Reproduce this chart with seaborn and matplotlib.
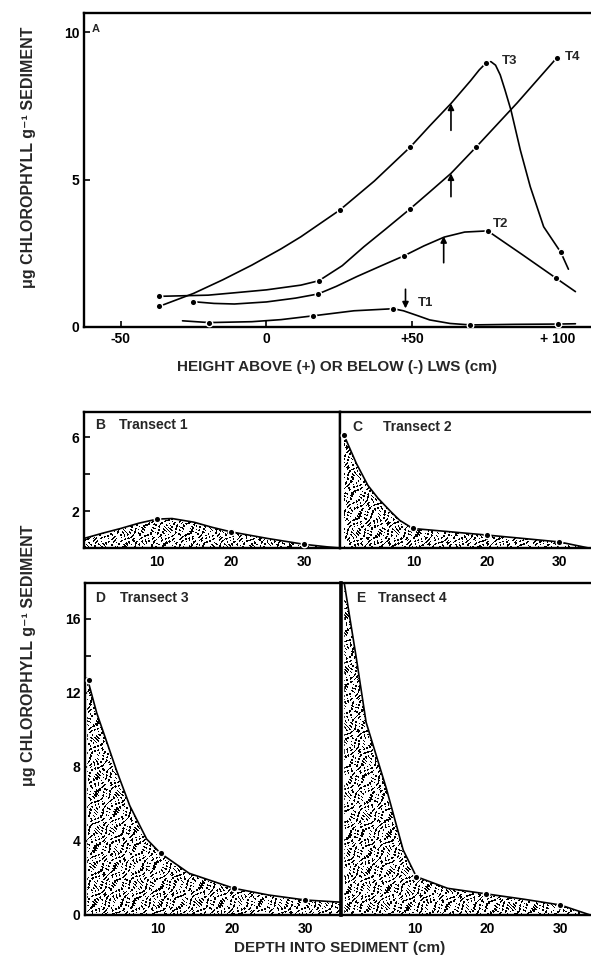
import numpy as np
import pandas as pd
import matplotlib
matplotlib.use('Agg')
import matplotlib.pyplot as plt
import seaborn as sns

# ---- panel A: chlorophyll vs height above / below LWS ----
# measured stations (dots)
t1_x = [-19.7, 16.1, 43.5, 70.0, 100.0]
t1_y = [0.15, 0.38, 0.62, 0.07, 0.10]
t2_x = [-25.3, 17.7, 47.1, 75.9, 99.3]
t2_y = [0.86, 1.12, 2.41, 3.26, 1.66]
t3_x = [-36.8, 25.2, 49.4, 75.4, 101.0]
t3_y = [0.70, 3.97, 6.11, 8.96, 2.53]
t4_x = [-36.8, 18.0, 49.2, 72.0, 99.7]
t4_y = [1.04, 1.57, 4.00, 6.11, 9.14]

# hand-drawn curves
t1_cx = [-28.8, -19.7, -5, 5, 16.1, 30, 43.5, 47, 52, 56, 63, 70, 85, 100, 106]
t1_cy = [0.21, 0.15, 0.18, 0.25, 0.38, 0.55, 0.62, 0.55, 0.38, 0.24, 0.12, 0.07, 0.09, 0.10, 0.11]
t2_cx = [-25.3, -18, -11, 0, 10, 17.7, 24, 31, 39, 47.1, 54, 61, 68, 75.9, 87.7, 99.3, 106]
t2_cy = [0.86, 0.80, 0.78, 0.85, 0.98, 1.12, 1.38, 1.71, 2.06, 2.41, 2.75, 3.05, 3.22, 3.26, 2.46,
         1.66, 1.2]
t3_cx = [-36.8, -25, -15, -5, 5, 11.8, 25.2, 37, 49.4, 56, 63.3, 70, 73, 75.4, 77, 78.6, 80.2,
         81.8, 83.9, 87.1, 90.5, 95.1, 101.0, 103.6]
t3_cy = [0.70, 1.14, 1.60, 2.10, 2.65, 3.06, 3.97, 4.95, 6.11, 6.82, 7.58, 8.35, 8.72, 8.96, 9.0,
         8.88, 8.55, 8.05, 7.35, 6.00, 4.76, 3.40, 2.53, 1.96]
t4_cx = [-36.8, -20, -11, 0, 11.8, 18.0, 26, 33.4, 41, 49.2, 56, 63.3, 72.0, 86, 99.7]
t4_cy = [1.04, 1.08, 1.16, 1.26, 1.42, 1.57, 2.08, 2.72, 3.33, 4.00, 4.58, 5.21, 6.11, 7.60, 9.14]

# arrows: (x, y_start, y_end)
arrow_x = [63.3, 63.3, 60.8, 47.7]
arrow_y0 = [6.67, 4.42, 2.18, 1.28]
arrow_y1 = [7.58, 5.21, 3.08, 0.63]

# ---- panels B-E: chlorophyll vs depth into sediment ----
b_x = [10, 20, 30]
b_y = [1.57, 0.88, 0.20]
b_cx = [0, 2.5, 5, 7.5, 10, 12, 15, 17.5, 20, 25, 30, 33.2, 35]
b_cy = [0.52, 0.80, 1.06, 1.35, 1.57, 1.60, 1.40, 1.12, 0.88, 0.52, 0.20, 0.06, 0.0]

c_x = [0.3, 9.8, 20.1, 30]
c_y = [6.13, 1.06, 0.70, 0.33]
c_cx = [0.3, 1, 2, 3.6, 5, 6.8, 8, 9.8, 15, 20.1, 25, 30, 34.1]
c_cy = [6.13, 5.5, 4.6, 3.4, 2.7, 1.96, 1.5, 1.06, 0.88, 0.70, 0.52, 0.33, 0.0]

d_x = [0.5, 10.3, 20.3, 30]
d_y = [12.7, 3.33, 1.44, 0.81]
d_cx = [0.3, 1.6, 3.0, 4.3, 6.1, 8.4, 10.3, 14.2, 20.3, 25, 30, 34.9]
d_cy = [12.8, 10.9, 9.3, 7.8, 5.9, 4.1, 3.33, 2.25, 1.44, 1.08, 0.81, 0.69]

e_x = [10.2, 19.8, 30]
e_y = [2.07, 1.14, 0.54]
e_cx = [0.3, 1.9, 3.3, 6.1, 8.4, 10.2, 14.5, 19.8, 25, 30, 34.1]
e_cy = [17.9, 14.0, 10.4, 6.8, 3.5, 2.07, 1.44, 1.14, 0.85, 0.54, 0.0]

sns.set_theme(style='ticks')
plt.rcParams['font.family'] = ['Liberation Sans', 'DejaVu Sans']
plt.rcParams['font.weight'] = 'bold'
plt.rcParams['xtick.direction'] = 'in'
plt.rcParams['ytick.direction'] = 'in'

fig = plt.figure(figsize=(5.91, 9.56), dpi=100)

SPW = 1.7
LW = 1.2


def style_axes(ax, hide=()):
    for s in ax.spines.values():
        s.set_linewidth(SPW)
        s.set_color('black')
    for s in hide:
        ax.spines[s].set_visible(False)
    ax.tick_params(colors='black', labelsize=10, width=1.2, length=4)
    for lab in ax.get_xticklabels() + ax.get_yticklabels():
        lab.set_fontweight('bold')
    ax.set_facecolor('white')


def curve(ax, cx, cy, px, py):
    sns.lineplot(x=cx, y=cy, ax=ax, color='black', lw=LW, estimator=None, sort=False)
    sns.scatterplot(x=px, y=py, ax=ax, color='black', s=22, edgecolor='white',
                    linewidth=1.0, zorder=4)


def stipple(w, h, phase):
    # worm-like stipple texture used as the fill of the depth profiles
    yy, xx = np.mgrid[0:h, 0:w].astype(float)
    u = xx + 2.2 * np.sin(yy / 2.9 + phase)
    v = yy + 2.2 * np.sin(xx / 3.3 + 1.3 * phase)
    z = np.sin(u * 1.25) * np.sin(v * 1.05) + 0.45 * np.sin((u - v) * 0.8 + phase)
    return (z > 0.38).astype(float)


# ---- A ----
axA = fig.add_axes([84 / 591, 1 - 327 / 956, 506 / 591, 314 / 956])
for cx, cy, px, py in [(t1_cx, t1_cy, t1_x, t1_y), (t2_cx, t2_cy, t2_x, t2_y),
                       (t3_cx, t3_cy, t3_x, t3_y), (t4_cx, t4_cy, t4_x, t4_y)]:
    curve(axA, cx, cy, px, py)
for ax_, y0, y1 in zip(arrow_x, arrow_y0, arrow_y1):
    axA.annotate('', xy=(ax_, y1), xytext=(ax_, y0),
                 arrowprops=dict(arrowstyle='-|>', color='black', lw=1.2, mutation_scale=9,
                                 shrinkA=0, shrinkB=0))
axA.text(80.8, 9.03, 'T3', fontsize=9.5, fontweight='bold', va='center')
axA.text(102.5, 9.16, 'T4', fontsize=9.5, fontweight='bold', va='center')
axA.text(77.8, 3.5, 'T2', fontsize=9.5, fontweight='bold', va='center')
axA.text(52.0, 0.81, 'T1', fontsize=9.5, fontweight='bold', va='center')
axA.text(0.015, 0.965, 'A', transform=axA.transAxes, fontsize=8, fontweight='bold', va='top')
axA.set_xlim(-62.6, 111)
axA.set_ylim(0, 10.65)
axA.set_xticks([-50, 0, 50, 100])
axA.set_xticklabels(['-50', '0', '+50', '+ 100'])
axA.set_yticks([0, 5, 10])
axA.set_yticklabels(['0', '5', '10'])
axA.set_xlabel('HEIGHT ABOVE (+) OR BELOW (-) LWS (cm)', fontsize=11, fontweight='bold',
               labelpad=10)
axA.set_ylabel('')
style_axes(axA, hide=('right',))


# ---- B-E ----
def depth_panel(rect, cx, cy, px, py, xlim, ylim, letter, title, lx, tx, ty, hide, phase):
    ax = fig.add_axes(rect)
    poly = ax.fill_between(cx, cy, 0, facecolor='white', linewidth=0, zorder=1)
    wpx = int(round(rect[2] * 591))
    hpx = int(round(rect[3] * 956))
    im = ax.imshow(stipple(wpx, hpx, phase), extent=[xlim[0], xlim[1], ylim[0], ylim[1]],
                   cmap='gray_r', vmin=0, vmax=1, aspect='auto', interpolation='nearest',
                   origin='lower', zorder=2)
    im.set_clip_path(poly.get_paths()[0], transform=ax.transData)
    curve(ax, cx, cy, px, py)
    ax.set_xlim(*xlim)
    ax.set_ylim(*ylim)
    ax.set_xticks([10, 20, 30])
    ax.set_xticklabels(['10', '20', '30'])
    ax.text(lx, ty, letter, transform=ax.transAxes, fontsize=10, fontweight='bold', va='center')
    ax.text(tx, ty, title, transform=ax.transAxes, fontsize=10, fontweight='bold', va='center')
    style_axes(ax, hide=hide)
    ax.tick_params(axis='x', length=3, pad=5)
    return ax


axB = depth_panel([84 / 591, 1 - 548 / 956, 256 / 591, 136.3 / 956], b_cx, b_cy, b_x, b_y,
                  (0, 34.9), (0, 7.4), 'B', 'Transect 1', 0.043, 0.135, 0.90, (), 0.0)
axB.set_yticks([2, 4, 6])
axB.set_yticklabels(['2', '', '6'])

axC = depth_panel([340 / 591, 1 - 548 / 956, 251 / 591, 136.3 / 956], c_cx, c_cy, c_x, c_y,
                  (-0.25, 34.4), (0, 7.4), 'C', 'Transect 2', 0.05, 0.17, 0.89, ('right',), 1.1)
axC.set_yticks([])

axD = depth_panel([85 / 591, 1 - 915 / 956, 256 / 591, 331.7 / 956], d_cx, d_cy, d_x, d_y,
                  (0, 34.9), (0, 17.9), 'D', 'Transect 3', 0.04, 0.137, 0.955, (), 2.3)
axD.set_yticks([0, 4, 8, 12, 14, 16])
axD.set_yticklabels(['0', '4', '8', '12', '', '16'])

axE = depth_panel([341 / 591, 1 - 915 / 956, 250 / 591, 331.7 / 956], e_cx, e_cy, e_x, e_y,
                  (-0.15, 34.2), (0, 17.9), 'E', 'Transect 4', 0.06, 0.147, 0.955, ('right',),
                  3.7)
axE.set_yticks([])
axE.spines['left'].set_linewidth(2.6)

ylab = 'μg CHLOROPHYLL g⁻¹ SEDIMENT'
fig.text(29 / 591, 1 - 157 / 956, ylab, rotation=90, ha='center', va='center',
         fontsize=11.5, fontweight='bold')
fig.text(29 / 591, 1 - 655 / 956, ylab, rotation=90, ha='center', va='center',
         fontsize=11.5, fontweight='bold')
fig.text(340 / 591, 1 - 948 / 956, 'DEPTH INTO SEDIMENT (cm)', ha='center', va='center',
         fontsize=11, fontweight='bold')

fig.savefig('out.png', dpi=100)
